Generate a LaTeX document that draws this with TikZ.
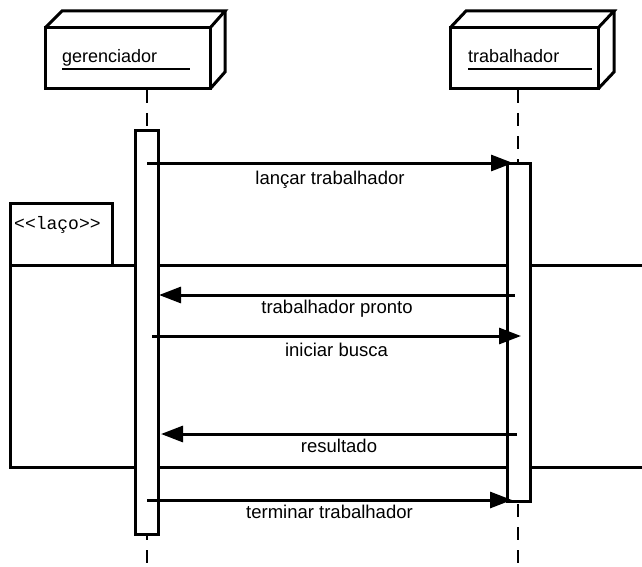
\documentclass[tikz,border=0pt]{standalone}
\usepackage{fontspec}
\setmainfont{Liberation Sans}
\newfontfamily\monofont{Liberation Mono}
\usetikzlibrary{arrows.meta}
\begin{document}
\begin{tikzpicture}[x=1pt,y=-1pt,
  heavy/.style={line width=3pt},
  lifeline/.style={line width=1.5pt, dash pattern=on 13pt off 10pt},
  actbox/.style={draw, fill=white, line width=3pt, minimum width=23pt, inner sep=0pt},
  msg/.style={line width=3pt, -{Triangle[length=22pt,width=16pt]}},
  msglabel/.style={font=\fontsize{18.5}{21}\selectfont, inner sep=0pt},
  objname/.style={font=\fontsize{18}{21}\selectfont, inner sep=0pt, anchor=base west}]
\useasboundingbox (0,0) rectangle (642,567);

% lifelines (behind everything)
\coordinate (gTop) at (147,90);
\coordinate (gBot) at (147,567);
\coordinate (tTop) at (518,90);
\coordinate (tBot) at (518,567);
\draw[lifeline] (gTop) -- (gBot);
\draw[lifeline] (tTop) -- (tBot);

% object boxes drawn as 3D blocks
\draw[heavy, line join=miter] (45,28) rectangle (210,89);
\draw[heavy, line join=miter] (45,28) -- (62,11) -- (225,11) -- (210,28);
\draw[heavy, line join=miter] (225,11) -- (225,72) -- (210,89);
\node[objname] (gName) at (62,63) {gerenciador};
\draw[line width=1.5pt] (62,69) -- (190,69);

\draw[heavy, line join=miter] (450,28) rectangle (598,89);
\draw[heavy, line join=miter] (450,28) -- (466,11) -- (614,11) -- (598,28);
\draw[heavy, line join=miter] (614,11) -- (614,72) -- (598,89);
\node[objname] (tName) at (468,63) {trabalhador};
\draw[line width=1.5pt] (468,69) -- (592,69);

% loop frame
\draw[heavy] (10,203) rectangle (112,265);
\node[font=\monofont\fontsize{18}{20}\selectfont, anchor=west, inner sep=0pt] (loopLabel) at (14,225) {<{}<laço>{}>};
\draw[heavy] (10,265) -- (642,265);
\draw[heavy] (10,265) -- (10,467) -- (642,467);

% activation bars
\node[actbox, minimum height=404pt] (actG) at (146.5,332.5) {};
\node[actbox, minimum height=338pt] (actT) at (518.5,332.5) {};

% message end points
\coordinate (m1s) at (147,163);   \coordinate (m1e) at (513,163);
\coordinate (m2s) at (515,295);   \coordinate (m2e) at (159,295);
\coordinate (m3s) at (152,336);   \coordinate (m3e) at (521,336);
\coordinate (m4s) at (517,434);   \coordinate (m4e) at (161,434);
\coordinate (m5s) at (147,500);   \coordinate (m5e) at (512,500);

\draw[msg] (m1s) -- (m1e) node[msglabel, midway, below=7pt] (l1) {lançar trabalhador};
\draw[msg] (m2s) -- (m2e) node[msglabel, midway, below=4pt] (l2) {trabalhador pronto};
\draw[msg] (m3s) -- (m3e) node[msglabel, midway, below=6pt] (l3) {iniciar busca};
\draw[msg] (m4s) -- (m4e) node[msglabel, midway, below=4pt] (l4) {resultado};
\draw[msg] (m5s) -- (m5e) node[msglabel, midway, below=4pt] (l5) {terminar trabalhador};
\end{tikzpicture}
\end{document}
